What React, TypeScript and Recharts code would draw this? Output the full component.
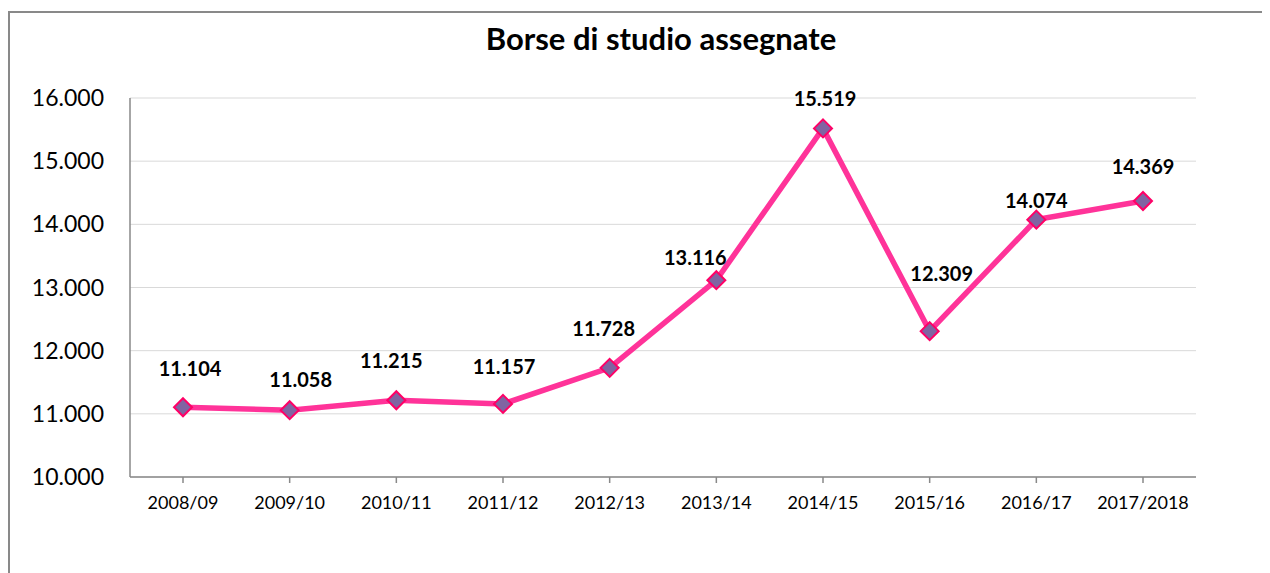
import { LineChart, Line, XAxis, YAxis, CartesianGrid, LabelList } from 'recharts';

const years = [
  '2008/09', '2009/10', '2010/11', '2011/12', '2012/13',
  '2013/14', '2014/15', '2015/16', '2016/17', '2017/2018',
];
const borse = [11104, 11058, 11215, 11157, 11728, 13116, 15519, 12309, 14074, 14369];
const yTicks = [10000, 11000, 12000, 13000, 14000, 15000, 16000];

// label nudges (dx, lift above point) to mimic the hand-placed labels
const labelDx = [7, 11, -5, 1, -6, -21, 2, 12, 0, 0];
const labelLift = [38, 30, 39, 37, 39, 22, 29, 57, 19, 34];

const data = years.map((y, i) => ({ anno: y, valore: borse[i] }));

const FONT = 'Lato, "Noto Sans", sans-serif';
const AXIS = '#898989';

const fmt = (v: number) => String(v).replace(/\B(?=(\d{3})+(?!\d))/g, '.');

function Diamond(props: any) {
  const { cx, cy } = props;
  if (cx == null || cy == null) return null;
  const r = 9;
  return (
    <path
      d={`M${cx},${cy - r}L${cx + r},${cy}L${cx},${cy + r}L${cx - r},${cy}Z`}
      fill="#8064A2"
      stroke="#FF0066"
      strokeWidth={2}
    />
  );
}

function ValueLabel(props: any) {
  const { x, y, value, index } = props;
  return (
    <text
      x={x + (labelDx[index] ?? 0)}
      y={y - (labelLift[index] ?? 32) + 7}
      textAnchor="middle"
      fontFamily={FONT}
      fontWeight={700}
      fontSize={20}
      fill="#000"
    >
      {fmt(value)}
    </text>
  );
}

export default function App() {
  return (
    <div
      style={{
        position: 'relative',
        marginTop: 3,
        width: 1262,
        height: 562,
        borderLeft: `2px solid ${AXIS}`,
        borderTop: `2px solid ${AXIS}`,
        background: '#fff',
      }}
    >
      <div
        style={{
          position: 'absolute',
          left: 0,
          width: 1302,
          top: 6,
          textAlign: 'center',
          fontFamily: FONT,
          fontWeight: 700,
          fontSize: 31,
          color: '#000',
        }}
      >
        Borse di studio assegnate
      </div>
      <LineChart
        width={1260}
        height={560}
        data={data}
        margin={{ top: 85, right: 74, bottom: 56, left: 0 }}
      >
        <CartesianGrid vertical={false} stroke="#D9D9D9" />
        <XAxis
          dataKey="anno"
          height={40}
          padding={{ left: 53, right: 53 }}
          axisLine={{ stroke: AXIS, strokeWidth: 1.5 }}
          tickLine={{ stroke: AXIS, strokeWidth: 1.5 }}
          tickSize={6}
          tickMargin={13}
          interval={0}
          tick={{ fontFamily: FONT, fontSize: 18, fill: '#000' }}
        />
        <YAxis
          width={120}
          domain={[10000, 16000]}
          ticks={yTicks}
          tickFormatter={fmt}
          axisLine={{ stroke: AXIS, strokeWidth: 1.5 }}
          tickLine={false}
          tickSize={0}
          tickMargin={26}
          tick={{ fontFamily: FONT, fontSize: 23, fill: '#000' }}
        />
        <Line
          type="linear"
          dataKey="valore"
          stroke="#FF3399"
          strokeWidth={5.5}
          dot={<Diamond />}
          activeDot={false}
          isAnimationActive={false}
        >
          <LabelList dataKey="valore" content={<ValueLabel />} />
        </Line>
      </LineChart>
    </div>
  );
}
